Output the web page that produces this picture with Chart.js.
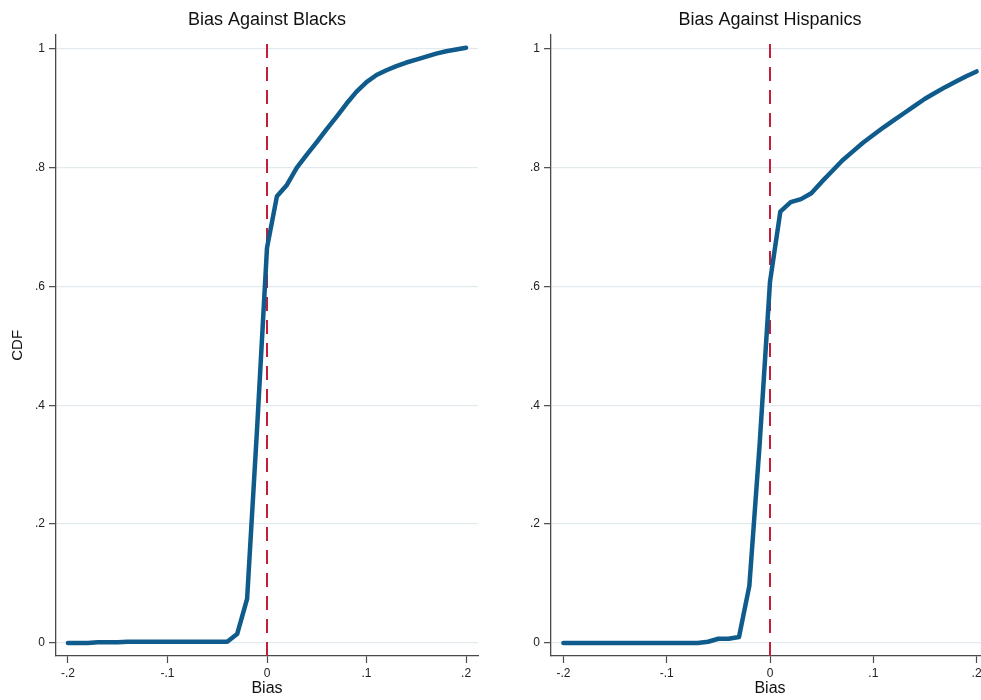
<!DOCTYPE html>
<html>
<head>
<meta charset="utf-8">
<title>Bias CDF</title>
<script src="https://cdn.jsdelivr.net/npm/chart.js@4.4.1/dist/chart.umd.min.js"></script>
<style>
  html, body { margin: 0; padding: 0; background: #fff; overflow: hidden; }
  #wrap { position: relative; width: 981px; height: 700px; overflow: hidden; }
  #left { position: absolute; left: 0; top: 0; }
  #right { position: absolute; left: 495px; top: 0; }
</style>
</head>
<body>
<div id="wrap">
  <canvas id="left" width="490" height="700"></canvas>
  <canvas id="right" width="506" height="700"></canvas>
</div>
<script>
'use strict';

// bias grid (x), one point per 0.01
var biasValues = [-0.20, -0.19, -0.18, -0.17, -0.16, -0.15, -0.14, -0.13, -0.12, -0.11,
  -0.10, -0.09, -0.08, -0.07, -0.06, -0.05, -0.04, -0.03, -0.02, -0.01,
  0.00, 0.01, 0.02, 0.03, 0.04, 0.05, 0.06, 0.07, 0.08, 0.09,
  0.10, 0.11, 0.12, 0.13, 0.14, 0.15, 0.16, 0.17, 0.18, 0.19, 0.20];

// CDF, bias against blacks
var cdfBlacks = [0.000, 0.000, 0.000, 0.001, 0.001, 0.001, 0.002, 0.002, 0.002, 0.002,
  0.002, 0.002, 0.002, 0.002, 0.002, 0.002, 0.002, 0.015, 0.074, 0.360,
  0.665, 0.752, 0.771, 0.800, 0.822, 0.843, 0.865, 0.886, 0.908, 0.928,
  0.944, 0.956, 0.964, 0.971, 0.977, 0.982, 0.987, 0.992, 0.996, 0.999, 1.002];

// CDF, bias against hispanics
var cdfHispanics = [0.000, 0.000, 0.000, 0.000, 0.000, 0.000, 0.000, 0.000, 0.000, 0.000,
  0.000, 0.000, 0.000, 0.000, 0.002, 0.007, 0.007, 0.010, 0.096, 0.335,
  0.608, 0.726, 0.742, 0.747, 0.757, 0.776, 0.794, 0.812, 0.827, 0.842,
  0.855, 0.868, 0.880, 0.892, 0.904, 0.916, 0.926, 0.936, 0.945, 0.954, 0.962];

var xTicks = [-0.2, -0.1, 0, 0.1, 0.2];
var yTicks = [0, 0.2, 0.4, 0.6, 0.8, 1];
var refLineX = 0;

var FONT = "'Liberation Sans', Arial, Helvetica, sans-serif";
var lineBlue = '#0f5b8c';
var refRed = '#c41e3a';
var axisGray = '#4a4a4a';

// stata style labels: .2 instead of 0.2
function stataLabel(v) {
  var r = Math.round(v * 10) / 10;
  if (r === 0) return '0';
  if (r === 1) return '1';
  return r.toFixed(1).replace('0.', '.');
}

function buildChart(canvasId, title, values, showYTitle) {
  var points = biasValues.map(function(b, i) {
    return {x: b, y: values[i]};
  });
  var ctx = document.getElementById(canvasId).getContext('2d');
  return new Chart(ctx, {
    type: 'line',
    data: {
      datasets: [{
        data: points,
        borderColor: lineBlue,
        borderWidth: 4.5,
        pointRadius: 0,
        tension: 0,
        fill: false,
        borderJoinStyle: 'round',
        borderCapStyle: 'round'
      }, {
        data: [{x: refLineX, y: -0.022}, {x: refLineX, y: 1.012}],
        borderColor: refRed,
        borderWidth: 2,
        borderDash: [14, 9],
        pointRadius: 0,
        fill: false
      }]
    },
    options: {
      responsive: false,
      animation: false,
      layout: {padding: {left: 0, right: 12, top: 0, bottom: 0}},
      plugins: {
        legend: {display: false},
        tooltip: {enabled: false},
        title: {
          display: true,
          text: title,
          fullSize: false,
          color: '#111',
          font: {family: FONT, size: 18, weight: 'normal'},
          padding: {top: 9, bottom: 4}
        }
      },
      scales: {
        x: {
          type: 'linear',
          min: -0.212,
          max: 0.212,
          afterBuildTicks: function(scale) {
            scale.ticks = xTicks.map(function(v) { return {value: v}; });
          },
          afterFit: function(scale) { scale.height = 44; },
          grid: {
            drawOnChartArea: false,
            tickColor: axisGray,
            tickLength: 7,
            tickWidth: 1.2
          },
          border: {display: true, color: axisGray, width: 1.3},
          ticks: {
            color: '#222',
            padding: 3,
            maxRotation: 0,
            font: {family: FONT, size: 12},
            callback: function(v) { return stataLabel(v); }
          },
          title: {
            display: true,
            text: 'Bias',
            color: '#111',
            font: {family: FONT, size: 16},
            padding: {top: 0, bottom: 2}
          }
        },
        y: {
          type: 'linear',
          min: -0.022,
          max: 1.024,
          afterBuildTicks: function(scale) {
            scale.ticks = yTicks.map(function(v) { return {value: v}; });
          },
          afterFit: function(scale) { scale.width = 56; },
          grid: {
            color: '#e3eaee',
            lineWidth: 1.3,
            tickColor: axisGray,
            tickLength: 7,
            tickWidth: 1.2
          },
          border: {display: true, color: axisGray, width: 1.3},
          ticks: {
            color: '#222',
            padding: 4,
            font: {family: FONT, size: 12},
            callback: function(v) { return stataLabel(v); }
          },
          title: {
            display: showYTitle,
            text: 'CDF',
            color: '#111',
            font: {family: FONT, size: 15},
            padding: {top: 9, bottom: 0}
          }
        }
      }
    }
  });
}

buildChart('left', 'Bias Against Blacks', cdfBlacks, true);
buildChart('right', 'Bias Against Hispanics', cdfHispanics, false);
</script>
</body>
</html>
